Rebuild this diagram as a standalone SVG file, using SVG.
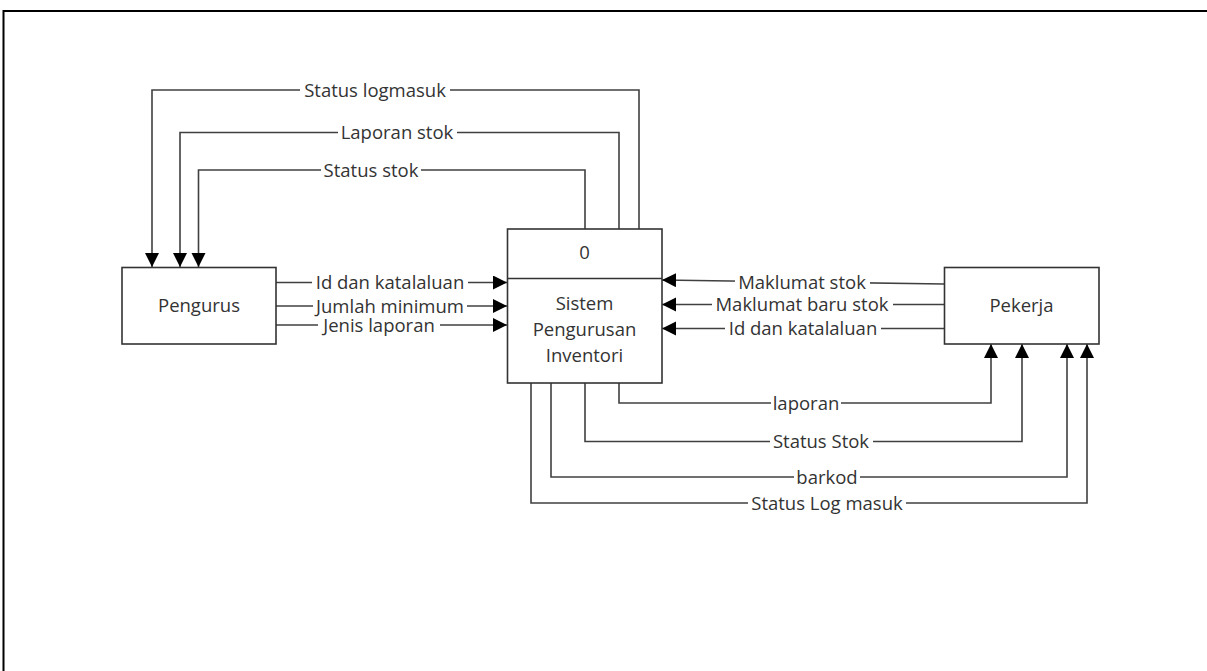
<svg xmlns="http://www.w3.org/2000/svg" width="1207" height="671" viewBox="0 0 1207 671">
  <defs>
    <marker id="arr" markerUnits="userSpaceOnUse" markerWidth="15" markerHeight="15" refX="14" refY="7" orient="auto">
      <path d="M0,0 L14,7 L0,14 Z" fill="#000"/>
    </marker>
    <style>
      .box { fill: #fff; stroke: #333; stroke-width: 1.6; }
      .conn { fill: none; stroke: #404040; stroke-width: 1.6; marker-end: url(#arr); }
      .node-text { font-family: "Open Sans", "Noto Sans", sans-serif; font-size: 18.5px; fill: #333; text-anchor: middle; }
      .lbl { font-family: "Open Sans", "Noto Sans", sans-serif; font-size: 18.5px; fill: #333; text-anchor: middle; }
      .bg { fill: #fff; }
    </style>
  </defs>
  <rect width="1207" height="671" fill="#fff"/>
  <path d="M3.5,671 V11 H1207" fill="none" stroke="#000" stroke-width="2"/>

  <g id="connectors">
    <!-- top: process to Pengurus -->
    <path class="conn" d="M639,229 V90 H152 V267"/>
    <path class="conn" d="M619,229 V132.5 H180 V267"/>
    <path class="conn" d="M585,229 V170 H198.5 V267"/>
    <!-- Pengurus to process -->
    <path class="conn" d="M276,282.5 H507"/>
    <path class="conn" d="M276,306 H507"/>
    <path class="conn" d="M276,325 H507"/>
    <!-- Pekerja to process -->
    <path class="conn" d="M944,284 L662,280"/>
    <path class="conn" d="M944,304.5 H662"/>
    <path class="conn" d="M944,328.5 H662"/>
    <!-- bottom: process to Pekerja -->
    <path class="conn" d="M619,383 V403 H991 V344"/>
    <path class="conn" d="M585,383 V441.5 H1022 V344"/>
    <path class="conn" d="M551,383 V477 H1067 V344"/>
    <path class="conn" d="M531,383 V503 H1087 V344"/>

    <g id="labels">
      <rect class="bg" x="300" y="80" width="150" height="20"/>
      <text class="lbl" x="375" y="96.5">Status logmasuk</text>
      <rect class="bg" x="338" y="122.5" width="119" height="20"/>
      <text class="lbl" x="397" y="139">Laporan stok</text>
      <rect class="bg" x="321" y="160" width="100" height="20"/>
      <text class="lbl" x="371" y="176.5">Status stok</text>

      <rect class="bg" x="312" y="273" width="156" height="19"/>
      <text class="lbl" x="390" y="289">Id dan katalaluan</text>
      <rect class="bg" x="313" y="296.5" width="154" height="19"/>
      <text class="lbl" x="390" y="312.5">Jumlah minimum</text>
      <rect class="bg" x="318" y="315.5" width="122" height="19"/>
      <text class="lbl" x="379" y="331.5">Jenis laporan</text>

      <rect class="bg" x="735" y="272" width="135" height="19"/>
      <text class="lbl" x="802" y="288.5">Maklumat stok</text>
      <rect class="bg" x="712" y="295" width="181" height="19"/>
      <text class="lbl" x="802" y="311">Maklumat baru stok</text>
      <rect class="bg" x="725" y="319" width="156" height="19"/>
      <text class="lbl" x="803" y="335">Id dan katalaluan</text>

      <rect class="bg" x="771" y="393.5" width="70" height="19"/>
      <text class="lbl" x="806" y="409.5">laporan</text>
      <rect class="bg" x="770" y="432" width="103" height="19"/>
      <text class="lbl" x="821" y="448">Status Stok</text>
      <rect class="bg" x="794" y="467.5" width="66" height="19"/>
      <text class="lbl" x="827" y="483.5">barkod</text>
      <rect class="bg" x="748" y="493.5" width="158" height="19"/>
      <text class="lbl" x="827" y="509.5">Status Log masuk</text>
    </g>
  </g>

  <g id="pengurus">
    <rect class="box" x="122" y="267.5" width="154" height="76.5"/>
    <text class="node-text" x="199" y="312">Pengurus</text>
  </g>

  <g id="process-0">
    <rect class="box" x="507.5" y="229" width="154.5" height="154"/>
    <line x1="507.5" y1="278.5" x2="662" y2="278.5" stroke="#333" stroke-width="1.6"/>
    <text class="node-text" x="584.5" y="258.5">0</text>
    <text class="node-text" x="584.5" y="310">Sistem</text>
    <text class="node-text" x="584.5" y="336">Pengurusan</text>
    <text class="node-text" x="584.5" y="361.5">Inventori</text>
  </g>

  <g id="pekerja">
    <rect class="box" x="944.5" y="267.5" width="154.5" height="76.5"/>
    <text class="node-text" x="1021.5" y="312">Pekerja</text>
  </g>
</svg>
